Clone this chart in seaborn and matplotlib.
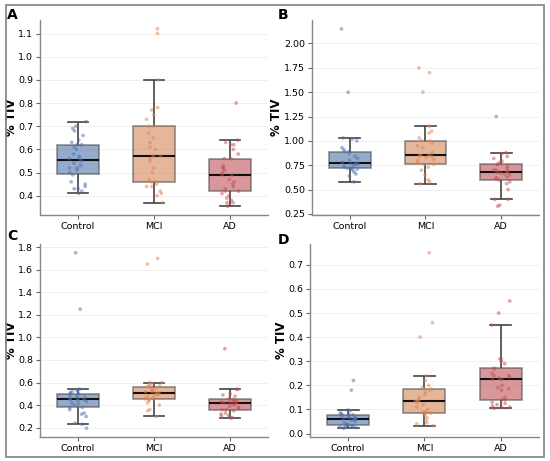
import numpy as np
import pandas as pd
import matplotlib.pyplot as plt
import seaborn as sns
from matplotlib.patches import Rectangle

groups = ["Control", "MCI", "AD"]

# panel A
a_control = [0.41, 0.42, 0.43, 0.43, 0.44, 0.45, 0.46, 0.49, 0.50, 0.51, 0.52, 0.52, 0.53, 0.54, 0.55,
             0.56, 0.56, 0.57, 0.58, 0.60, 0.61, 0.62, 0.62, 0.63, 0.64, 0.66, 0.68, 0.69, 0.70, 0.72]
a_mci = [0.37, 0.40, 0.41, 0.42, 0.44, 0.44, 0.45, 0.46, 0.46, 0.47, 0.50, 0.52, 0.55, 0.56, 0.57,
         0.57, 0.60, 0.61, 0.63, 0.65, 0.67, 0.70, 0.70, 0.73, 0.75, 0.77, 0.78, 0.90, 1.10, 1.12]
a_ad = [0.355, 0.37, 0.37, 0.38, 0.39, 0.40, 0.41, 0.42, 0.42, 0.43, 0.44, 0.45, 0.46, 0.47, 0.49,
        0.49, 0.50, 0.51, 0.52, 0.52, 0.53, 0.56, 0.56, 0.58, 0.60, 0.62, 0.62, 0.63, 0.64, 0.80]

# panel B
b_control = [0.58, 0.64, 0.66, 0.68, 0.70, 0.71, 0.72, 0.72, 0.72, 0.73, 0.74, 0.75, 0.76, 0.76, 0.77,
             0.77, 0.78, 0.80, 0.82, 0.84, 0.87, 0.89, 0.89, 0.91, 0.93, 1.00, 1.02, 1.03, 1.50, 2.15]
b_mci = [0.56, 0.58, 0.60, 0.65, 0.70, 0.73, 0.76, 0.76, 0.77, 0.78, 0.80, 0.81, 0.83, 0.84, 0.85,
         0.85, 0.86, 0.88, 0.93, 0.95, 0.98, 1.00, 1.00, 1.03, 1.08, 1.10, 1.15, 1.50, 1.70, 1.75]
b_ad = [0.33, 0.34, 0.40, 0.40, 0.50, 0.56, 0.58, 0.60, 0.61, 0.62, 0.63, 0.65, 0.66, 0.67, 0.68,
        0.68, 0.69, 0.70, 0.70, 0.72, 0.74, 0.76, 0.76, 0.78, 0.79, 0.82, 0.84, 0.87, 0.88, 1.25]

# panel C
c_control = [0.195, 0.23, 0.24, 0.30, 0.32, 0.33, 0.36, 0.38, 0.38, 0.40, 0.41, 0.42, 0.43, 0.44, 0.45,
             0.45, 0.46, 0.46, 0.47, 0.48, 0.49, 0.50, 0.50, 0.51, 0.52, 0.53, 0.54, 0.54, 1.25, 1.75]
c_mci = [0.30, 0.35, 0.36, 0.40, 0.42, 0.44, 0.45, 0.455, 0.455, 0.46, 0.47, 0.48, 0.49, 0.50, 0.50,
         0.51, 0.52, 0.52, 0.53, 0.54, 0.55, 0.565, 0.565, 0.57, 0.58, 0.59, 0.60, 0.60, 1.65, 1.70]
c_ad = [0.285, 0.29, 0.30, 0.31, 0.32, 0.33, 0.35, 0.36, 0.36, 0.37, 0.38, 0.39, 0.40, 0.41, 0.42,
        0.42, 0.42, 0.43, 0.43, 0.44, 0.44, 0.45, 0.45, 0.46, 0.48, 0.49, 0.50, 0.54, 0.54, 0.90]

# panel D
d_control = [0.022, 0.025, 0.027, 0.028, 0.030, 0.032, 0.034, 0.036, 0.036, 0.040, 0.045, 0.050, 0.055, 0.058, 0.062,
             0.062, 0.064, 0.066, 0.068, 0.070, 0.074, 0.078, 0.078, 0.080, 0.083, 0.085, 0.095, 0.098, 0.18, 0.22]
d_mci = [0.033, 0.04, 0.045, 0.055, 0.065, 0.075, 0.085, 0.085, 0.086, 0.09, 0.10, 0.11, 0.12, 0.13, 0.135,
         0.135, 0.14, 0.15, 0.16, 0.17, 0.18, 0.185, 0.185, 0.19, 0.20, 0.22, 0.24, 0.40, 0.46, 0.75]
d_ad = [0.105, 0.11, 0.11, 0.115, 0.12, 0.125, 0.13, 0.14, 0.14, 0.15, 0.18, 0.185, 0.19, 0.20, 0.225,
        0.225, 0.23, 0.235, 0.24, 0.24, 0.25, 0.27, 0.27, 0.29, 0.30, 0.31, 0.31, 0.45, 0.50, 0.55]

ticks_a = [0.4, 0.5, 0.6, 0.7, 0.8, 0.9, 1.0, 1.1]
ticks_b = [0.25, 0.50, 0.75, 1.00, 1.25, 1.50, 1.75, 2.00]
ticks_c = [0.2, 0.4, 0.6, 0.8, 1.0, 1.2, 1.4, 1.6, 1.8]
ticks_d = [0.0, 0.1, 0.2, 0.3, 0.4, 0.5, 0.6, 0.7]

deep = sns.color_palette("deep")
pal = [deep[0], deep[1], deep[3]]

np.random.seed(3)

fig = plt.figure(figsize=(5.5, 4.61), dpi=100)
# grey frame round the whole figure
fig.patches.append(Rectangle((0.011, 0.009), 0.978, 0.980, transform=fig.transFigure,
                             fill=False, edgecolor="#8a8a8a", linewidth=1.3))

panels = [
    ("A", [0.0727, 0.5336, 0.4145, 0.423], [a_control, a_mci, a_ad], ticks_a, "{:.1f}", (0.022, 0.968), -0.095),
    ("B", [0.567, 0.5336, 0.413, 0.423], [b_control, b_mci, b_ad], ticks_b, "{:.2f}", (0.515, 0.968), -0.127),
    ("C", [0.0727, 0.052, 0.4145, 0.4187], [c_control, c_mci, c_ad], ticks_c, "{:.1f}", (0.022, 0.487), -0.095),
    ("D", [0.5636, 0.052, 0.416, 0.4187], [d_control, d_mci, d_ad], ticks_d, "{:.1f}", (0.515, 0.48), -0.097),
]

for letter, pos, vals, ticks, fmt, lpos, ylx in panels:
    ax = fig.add_axes(pos)
    df = pd.DataFrame({
        "group": np.repeat(groups, [len(v) for v in vals]),
        "tiv": np.concatenate(vals),
    })
    ax.yaxis.grid(True, color="#efefef", linewidth=0.7, zorder=0)
    ax.set_axisbelow(True)
    sns.boxplot(data=df, x="group", y="tiv", hue="group", palette=pal, order=groups,
                width=0.55, showfliers=False, legend=False, ax=ax, linewidth=1.2, saturation=0.9,
                boxprops=dict(alpha=0.6, edgecolor="#4a4a4a"),
                whiskerprops=dict(color="#444444", linewidth=1.2),
                capprops=dict(color="#444444", linewidth=1.2),
                medianprops=dict(color="#111111", linewidth=1.5))
    sns.stripplot(data=df, x="group", y="tiv", hue="group", palette=pal, order=groups,
                  jitter=0.12, size=2.7, alpha=0.5, legend=False, ax=ax, zorder=3)
    ax.set_yticks(ticks)
    ax.set_yticklabels([fmt.format(t) for t in ticks])
    ax.set_xlim(-0.5, 2.5)
    ax.set_xlabel("")
    ax.set_ylabel("% TIV", fontsize=8.5, fontweight="bold")
    ax.yaxis.set_label_coords(ylx, 0.5)
    ax.tick_params(labelsize=6.8, length=3, width=0.8, color="#666666", pad=2)
    sns.despine(ax=ax)
    for s in ["left", "bottom"]:
        ax.spines[s].set_color("#888888")
        ax.spines[s].set_linewidth(1.0)
    fig.text(lpos[0], lpos[1], letter, fontsize=10, fontweight="bold", ha="center", va="center")

fig.savefig("out.png", dpi=100)
